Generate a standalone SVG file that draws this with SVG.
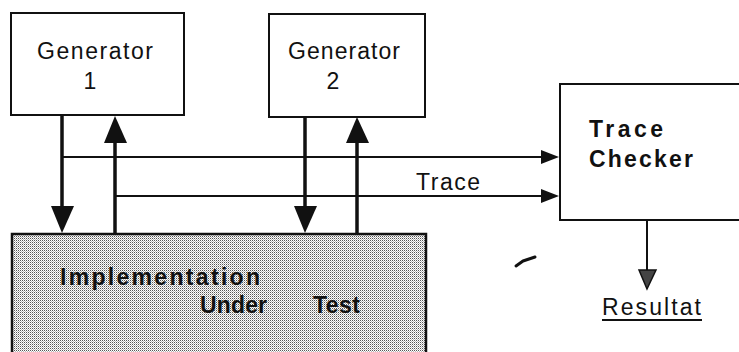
<svg xmlns="http://www.w3.org/2000/svg" width="739" height="352" viewBox="0 0 739 352">
  <defs>
    <pattern id="stipple" width="2" height="2" patternUnits="userSpaceOnUse">
      <rect width="2" height="2" fill="#ffffff"/>
      <rect x="0" y="0" width="1" height="1" fill="#555555"/>
      <rect x="1" y="1" width="1" height="1" fill="#b8b8b8"/>
    </pattern>
  </defs>
  <style>
    .box { fill: #ffffff; stroke: #111111; stroke-width: 2; }
    .iut { fill: url(#stipple); stroke: #111111; stroke-width: 2.5; }
    .lbl { font-family: "Liberation Sans", Arial, sans-serif; font-size: 23px; fill: #111111; }
    .bold { font-family: "Liberation Sans", Arial, sans-serif; font-weight: bold; font-size: 23px; fill: #111111; }
    .thick { stroke: #111111; stroke-width: 3.5; fill: none; }
    .thin { stroke: #111111; stroke-width: 2; fill: none; }
    .head { fill: #111111; stroke: none; }
  </style>
  <rect width="739" height="352" fill="#ffffff"/>

  <g id="generator1">
    <rect class="box" x="11" y="13" width="173" height="102"/>
    <text class="lbl" x="37" y="59" textLength="116" lengthAdjust="spacing">Generator</text>
    <text class="lbl" x="90" y="89" text-anchor="middle">1</text>
  </g>

  <g id="generator2">
    <rect class="box" x="269" y="14" width="156" height="103"/>
    <text class="lbl" x="288" y="59" textLength="112" lengthAdjust="spacing">Generator</text>
    <text class="lbl" x="333" y="89" text-anchor="middle">2</text>
  </g>

  <g id="trace-checker">
    <rect class="box" x="560" y="84" width="200" height="136"/>
    <text class="bold" x="589" y="137" textLength="74" lengthAdjust="spacing">Trace</text>
    <text class="bold" x="589" y="167" textLength="104" lengthAdjust="spacing">Checker</text>
  </g>

  <g id="iut">
    <rect class="iut" x="12" y="234" width="414" height="130"/>
    <text class="bold" font-size="22" x="60" y="285" textLength="200" lengthAdjust="spacing">Implementation</text>
    <text class="bold" font-size="22" x="200" y="313" textLength="67" lengthAdjust="spacing">Under</text>
    <text class="bold" font-size="22" x="313" y="313" textLength="47" lengthAdjust="spacing">Test</text>
  </g>

  <g id="resultat">
    <text class="lbl" font-size="22" x="602" y="315" textLength="99" lengthAdjust="spacing">Resultat</text>
    <line class="thin" x1="602" y1="320" x2="702" y2="320" stroke-width="1.5"/>
  </g>

  <g id="connectors">
    <!-- generator 1 stimulus down / response up -->
    <line class="thick" x1="62" y1="115" x2="62" y2="210"/>
    <polygon class="head" points="51,206 74,206 62,233"/>
    <line class="thick" x1="115" y1="234" x2="115" y2="140"/>
    <polygon class="head" points="104,143 127,143 115,116"/>
    <!-- generator 2 stimulus down / response up -->
    <line class="thick" x1="305" y1="117" x2="305" y2="210"/>
    <polygon class="head" points="294,206 317,206 305,233"/>
    <line class="thick" x1="357" y1="234" x2="357" y2="140"/>
    <polygon class="head" points="346,143 369,143 357,117"/>
    <!-- trace taps to the checker -->
    <line class="thin" x1="62" y1="157" x2="545" y2="157"/>
    <polygon class="head" points="541,150 541,164 559,157"/>
    <line class="thin" x1="115" y1="196" x2="545" y2="196"/>
    <polygon class="head" points="541,189 541,203 559,196"/>
    <text class="lbl" font-size="21" x="416" y="190" textLength="64" lengthAdjust="spacing">Trace</text>
    <!-- verdict output -->
    <line class="thin" x1="647" y1="220" x2="647" y2="272"/>
    <polygon points="639,270 656,270 647,289" fill="#444444" stroke="#111111" stroke-width="1.5"/>
  </g>

  <path d="M516,266 L523,261 L535,257" stroke="#111111" stroke-width="3" fill="none" stroke-linecap="round" stroke-linejoin="round"/>
</svg>
